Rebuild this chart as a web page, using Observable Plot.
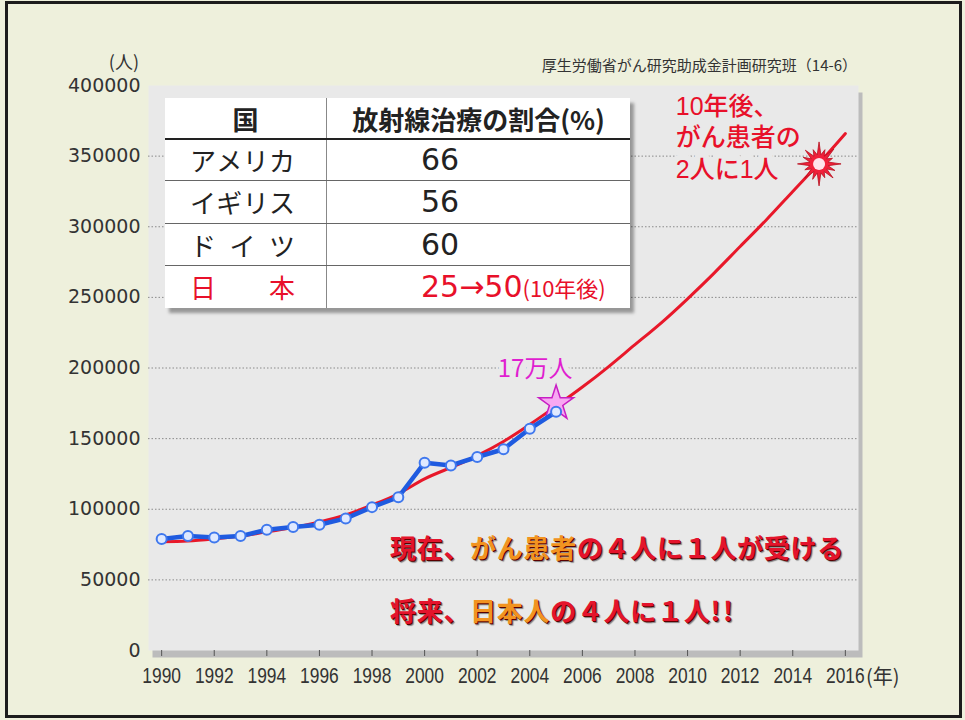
<!DOCTYPE html>
<html>
<head>
<meta charset="utf-8">
<script src="https://cdn.jsdelivr.net/npm/d3@7"></script>
<script src="https://cdn.jsdelivr.net/npm/@observablehq/plot@0.6"></script>
<style>
  body { margin: 0; background: #ffffff; }
  #wrap { position: relative; width: 965px; height: 720px; background: #eef0dc; overflow: hidden;
          font-family: "Noto Sans CJK JP", sans-serif; }
  #wrap svg { position: absolute; left: 0; top: 0; }
  #border { position: absolute; left: 5px; top: 1px; width: 957px; height: 717px; box-sizing: border-box;
            border: 3px solid #1c1c1c; pointer-events: none; }
  .lbl { position: absolute; color: #333; white-space: nowrap; }
  #tbl { position: absolute; left: 165px; top: 98px; width: 465px; height: 210px; background: #fff;
         border-collapse: collapse; box-shadow: 4px 5px 3px rgba(0,0,0,0.35); color: #222; }
  #tbl td, #tbl th { padding: 0; }
  #tbl th { font-size: 26px; font-weight: 700; text-align: center; border-bottom: 2px solid #222; }
  #tbl td.c1, #tbl th.c1 { width: 161px; border-right: 1px solid #888; }
  #tbl tr.row td { border-bottom: 1.5px solid #666; }
  #tbl tr.row:last-child td { border-bottom: none; }
  .name { display: flex; justify-content: space-between; width: 105px; margin-left: 25px; font-size: 26px; }
  #tbl td.num { padding-left: 94px; font-family: "DejaVu Sans", sans-serif; font-size: 30px; }
  .note { font-family: "Noto Sans CJK JP", sans-serif; font-size: 22px; }
  .jp { color: #e8102a; }
  .cap { position: absolute; left: 390px; font-size: 26px; line-height: 30px; font-weight: 700;
         letter-spacing: 0.7px; color: #e4142c; white-space: nowrap;
         text-shadow: 1px 1px 0 #5a0000, 2px 2px 1px rgba(0,0,0,0.45); }
  .cap .o { color: #f29320; }
</style>
</head>
<body>
<div id="wrap">
  <div id="chart"></div>
  <div class="lbl" style="right:826px; top:49px; font-size:18px; line-height:24px;">(人)</div>
  <div class="lbl" style="right:108px; top:55px; font-size:15px; line-height:20px;">厚生労働省がん研究助成金計画研究班（14-6）</div>
  <div class="lbl" style="left:866px; top:663px; font-size:20px; line-height:26px;">(年)</div>
  <table id="tbl"></table>
  <div class="cap" style="top:532px">現在、<span class="o">がん患者</span>の４人に１人が受ける</div>
  <div class="cap" style="top:595px">将来、<span class="o">日本人</span>の４人に１人<span style="letter-spacing:3px">!!</span></div>
  <div id="border"></div>
</div>
<script>
// ---- data ----
const years = [1990, 1991, 1992, 1993, 1994, 1995, 1996, 1997, 1998, 1999, 2000, 2001, 2002, 2003, 2004, 2005];
const patients = [79000, 81000, 80000, 81000, 85500, 87500, 89000, 93500, 101500, 108500, 133000, 131000, 137000, 142500, 157000, 169000];

const trendYears = [1990, 1991, 1992, 1993, 1994, 1995, 1996, 1997, 1998, 1999, 2000, 2001, 2002, 2003,
                    2004, 2005, 2006, 2007, 2008, 2009, 2010, 2011, 2012, 2013, 2014, 2015, 2016];
const trendValues = [77000, 77500, 79000, 81000, 84000, 87000, 91000, 96000, 103000, 111000, 121500, 129500, 138000, 148000,
                     160000, 173000, 186500, 201000, 216500, 232000, 249000, 267000, 286000, 305000, 325000, 345000, 366000];

const yTicks = [0, 50000, 100000, 150000, 200000, 250000, 300000, 350000, 400000];
const gridTicks = [50000, 100000, 150000, 200000, 250000, 300000, 350000];
const xTicks = [1990, 1992, 1994, 1996, 1998, 2000, 2002, 2004, 2006, 2008, 2010, 2012, 2014, 2016];

const countries = ["アメリカ", "イギリス", "ドイツ", "日本"];
const rates = ["66", "56", "60", "25→50"];
const rateNotes = ["", "", "", "(10年後)"];
const tableHeader = ["国", "放射線治療の割合(%)"];

const starPoint = [{year: 2005, value: 175000}];
const starLabel = [{year: 2004.2, value: 199000, text: "17万人"}];
const burstPoint = [{year: 2015, value: 344500}];
const callout = [
  {year: 2009.55, value: 384500, text: "10年後、"},
  {year: 2009.55, value: 362500, text: "がん患者の"},
  {year: 2009.55, value: 340500, text: "2人に1人"}
];

// ---- table ----
const tbl = document.getElementById("tbl");
let html = `<tr style="height:41px"><th class="c1">${tableHeader[0]}</th><th>${tableHeader[1]}</th></tr>`;
const rowH = [41, 43, 42, 43];
countries.forEach((c, i) => {
  const cls = i === countries.length - 1 ? "jp" : "";
  const chars = [...c].map(ch => `<span>${ch}</span>`).join("");
  const note = rateNotes[i] ? `<span class="note">${rateNotes[i]}</span>` : "";
  html += `<tr class="row ${cls}" style="height:${rowH[i]}px"><td class="c1"><div class="name">${chars}</div></td>` +
          `<td class="num">${rates[i]}${note}</td></tr>`;
});
tbl.innerHTML = html;

// ---- chart ----
const obs = years.map((y, i) => ({year: y, value: patients[i]}));
const fit = trendYears.map((y, i) => ({year: y, value: trendValues[i]}));

const spikes = [1, 0.7, 0.95, 0.66, 1, 0.78, 0.9, 0.68, 1, 0.76, 0.92, 0.7, 0.98, 0.78, 0.88, 0.7];
const burstSymbol = {
  draw(ctx, size) {
    const R = Math.sqrt(size / Math.PI);
    const n = spikes.length;
    for (let i = 0; i < n; i++) {
      const a1 = (i / n) * 2 * Math.PI - Math.PI / 2;
      const a2 = ((i + 0.5) / n) * 2 * Math.PI - Math.PI / 2;
      const ro = R * spikes[i], ri = R * 0.42;
      if (i === 0) ctx.moveTo(ro * Math.cos(a1), ro * Math.sin(a1));
      else ctx.lineTo(ro * Math.cos(a1), ro * Math.sin(a1));
      ctx.lineTo(ri * Math.cos(a2), ri * Math.sin(a2));
    }
    ctx.closePath();
  }
};

const cjk = "'Noto Sans CJK JP', sans-serif";

const chart = Plot.plot({
  width: 965,
  height: 720,
  marginLeft: 148,
  marginRight: 107,
  marginTop: 85,
  marginBottom: 70,
  style: {background: "transparent", fontFamily: cjk, overflow: "visible"},
  x: {domain: [1989.5, 2016.5]},
  y: {domain: [0, 400000]},
  marks: [
    Plot.frame({fill: "#bcbcbc", dx: 4, dy: 7}),
    Plot.frame({fill: "#e9e9e9"}),
    Plot.gridY(gridTicks, {stroke: "#8a8a8a", strokeOpacity: 1, strokeDasharray: "1.5,2"}),
    Plot.axisY(yTicks, {tickSize: 0, tickPadding: 8, fontSize: 19, fontFamily: "'DejaVu Sans', sans-serif",
                        fill: "#333", tickFormat: d => String(d), label: null}),
    Plot.axisX(xTicks, {tickSize: 6, tickPadding: 11, fontSize: 22,
                        fontFamily: "'Liberation Sans', sans-serif",
                        fill: "#333", stroke: "#555", tickFormat: d => String(d), label: null}),
    Plot.text(callout, {x: "year", y: "value", text: "text", textAnchor: "start",
                        fill: "#e8102a", fontSize: 25, fontWeight: 500,
                        fontFamily: "'Liberation Sans', 'Noto Sans CJK JP', sans-serif",
                        stroke: "#e9e9e9", strokeWidth: 12}),
    Plot.text(starLabel, {x: "year", y: "value", text: "text", fill: "#e01ed0", fontSize: 24, fontFamily: cjk,
                          stroke: "#e9e9e9", strokeWidth: 10}),
    Plot.line(fit, {x: "year", y: "value", stroke: "#e8182a", strokeWidth: 3, curve: "natural"}),
    Plot.dot(starPoint, {x: "year", y: "value", symbol: "star", r: 11, fill: "#f7a8f2", stroke: "#c81ec4", strokeWidth: 1.5}),
    Plot.line(obs, {x: "year", y: "value", stroke: "#1f5be0", strokeWidth: 4.5}),
    Plot.dot(obs, {x: "year", y: "value", r: 5, fill: "#dfe9ff", stroke: "#3f78ee", strokeWidth: 2}),
    Plot.dot(burstPoint, {x: "year", y: "value", symbol: burstSymbol, r: 22, fill: "#f0203a", stroke: "#b80f1e", strokeWidth: 0.8}),
    Plot.dot(burstPoint, {x: "year", y: "value", r: 6, fill: "#ffe3ea"})
  ]
});
document.getElementById("chart").appendChild(chart);

// condensed year labels like the reference (horizontal squeeze only)
d3.select(chart).selectAll('g[aria-label="x-axis tick label"] text').each(function() {
  const t = this.getAttribute("transform") || "";
  this.setAttribute("transform", t + " scale(0.79,1)");
});
</script>
</body>
</html>
